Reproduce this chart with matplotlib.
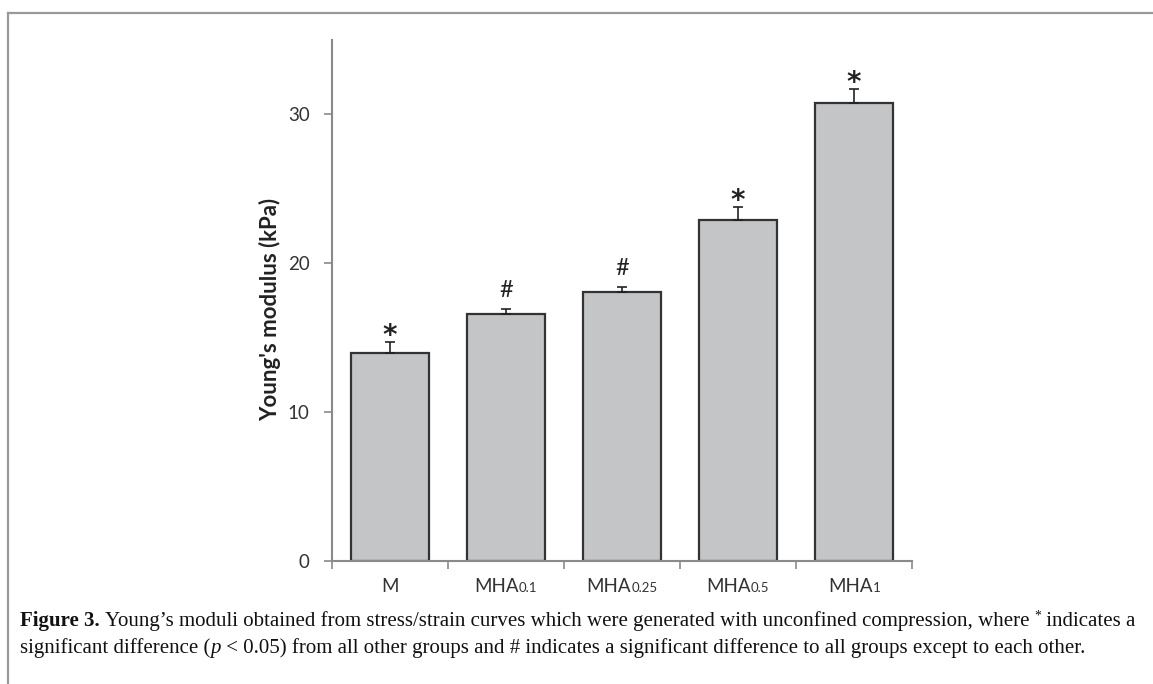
import matplotlib
matplotlib.use("Agg")
import matplotlib.pyplot as plt
from matplotlib.lines import Line2D

cats=[("M",""),("MHA","0.1"),("MHA","0.25"),("MHA","0.5"),("MHA","1")]
vals=[14.0,16.6,18.1,22.9,30.8]
errs=[0.7,0.35,0.3,0.9,0.9]
marks=["*","#","#","*","*"]

bar_c="#c4c5c7"
edge_c="#333333"
ax_c="#8a8a8a"
sans="Lato"
serif="Liberation Serif"

W,H=1153,684
fig=plt.figure(figsize=(W/100,H/100),dpi=100)
ax=fig.add_axes([332/W,1-561/H,580/W,521/H])

x=list(range(len(vals)))
ax.bar(x,vals,width=0.67,color=bar_c,edgecolor=edge_c,linewidth=1.6,zorder=2)
ax.errorbar(x,vals,yerr=[[0]*len(errs),errs],fmt="none",ecolor="#222222",
	elinewidth=1.2,capsize=3.5,capthick=1.2,zorder=3)
for i in x:
	if marks[i]=="*":
		ax.annotate("*",(i,vals[i]+errs[i]),xytext=(0,-1.5),textcoords="offset points",
			ha="center",va="baseline",fontsize=20,family="DejaVu Sans",
			fontweight="bold",color="#222222")
	else:
		ax.annotate("#",(i,vals[i]+errs[i]),xytext=(0,8.5),textcoords="offset points",
			ha="center",va="baseline",fontsize=17,family=sans,color="#222222")

ax.set_xlim(-0.5,4.5)
ax.set_ylim(0,35)
ax.set_yticks([0,10,20,30])
ax.tick_params(axis="y",direction="out",length=6,width=1.2,color=ax_c,pad=10,
	labelsize=13.5,labelcolor="#333333")
for t in ax.get_yticklabels():
	t.set_family(sans)
ax.set_xticks([-0.5,0.5,1.5,2.5,3.5,4.5])
ax.set_xticklabels([])
ax.tick_params(axis="x",direction="out",length=6,width=1.2,color=ax_c)
for s in ["top","right"]:
	ax.spines[s].set_visible(False)
for s in ["left","bottom"]:
	ax.spines[s].set_color(ax_c)
	ax.spines[s].set_linewidth(1.5)
ax.set_ylabel("Young's modulus (kPa)",family=sans,fontweight="bold",fontsize=16,
	color="#222222")
ax.yaxis.set_label_coords(-0.088,0.482)
ax.patch.set_alpha(0)

# frame lines of the figure panel
fig.add_artist(Line2D([8/W,1],[1-13/H,1-13/H],color="#9a9a9a",linewidth=1.6))
fig.add_artist(Line2D([8/W,8/W],[0,1-13/H],color="#9a9a9a",linewidth=1.6))

fig.canvas.draw()
r=fig.canvas.get_renderer()


def seg(parts,x0,y0,ha="left"):
	# parts: list of (text, kwargs); x0,y0 in pixels from bottom-left
	ts=[]
	for s,kw in parts:
		t=fig.text(0,0,s,transform=None,va="baseline",**kw)
		ts.append(t)
	ws=[t.get_window_extent(r).width for t in ts]
	if ha=="center":
		x0=x0-sum(ws)/2
	cx=x0
	for t,w in zip(ts,ws):
		t.set_position((cx,y0))
		cx+=w
	return cx


# category labels
for i,(a,b) in enumerate(cats):
	px=ax.transData.transform((i,0))[0]
	p=[(a,dict(family=sans,fontsize=13.5,color="#333333"))]
	if b:
		p.append((b,dict(family=sans,fontsize=9.5,color="#333333")))
	seg(p,px,H-592,ha="center")

# caption
fs=15
rg=dict(family=serif,fontsize=fs,color="#111111")
bd=dict(family=serif,fontsize=fs,color="#111111",fontweight="bold")
it=dict(family=serif,fontsize=fs,color="#111111",style="italic")
sup=dict(family=serif,fontsize=fs*0.65,color="#111111")
y1=H-626
cx=seg([("Figure 3. ",bd),
	("Young\u2019s moduli obtained from stress/strain curves which were generated with unconfined compression, where ",rg)],20,y1)
t=fig.text(cx,y1+6,"*",transform=None,va="baseline",**sup)
cx+=t.get_window_extent(r).width
seg([(" indicates a",rg)],cx,y1)
seg([("significant difference (",rg),("p",it),(" < 0.05) from all other groups and # indicates a significant difference to all groups except to each other.",rg)],20,H-653)

fig.savefig("out.png",dpi=100)
